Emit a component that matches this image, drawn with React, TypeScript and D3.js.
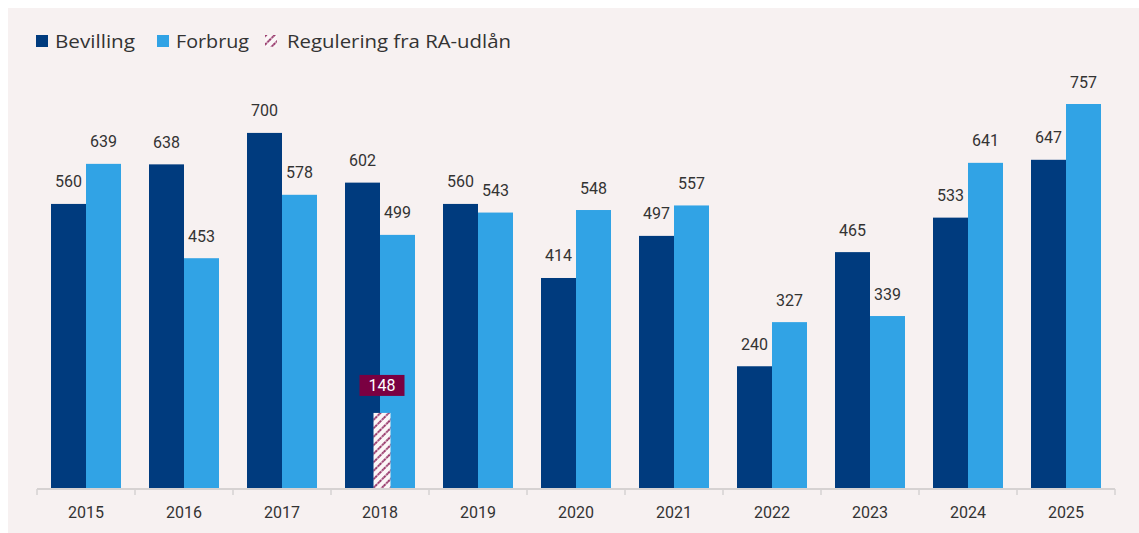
import React from "react";
import * as d3 from "d3";

const years = ["2015", "2016", "2017", "2018", "2019", "2020", "2021", "2022", "2023", "2024", "2025"];
const bevilling = [560, 638, 700, 602, 560, 414, 497, 240, 465, 533, 647];
const forbrug = [639, 453, 578, 499, 543, 548, 557, 327, 339, 641, 757];
const reguleringYear = "2018";
const reguleringValue = 148;
const legendLabels = ["Bevilling", "Forbrug", "Regulering fra RA-udlån"];

const W = 1139;
const H = 533;
const C_BEV = "#003B7E";
const C_FOR = "#31A3E5";
const C_REG = "#7A0041";
const BG = "#F7F1F1";
const FONT = "Roboto, 'Noto Sans', sans-serif";
const LFONT = "'Open Sans', 'Noto Sans', sans-serif";

export default function App() {
  const x = d3.scaleBand<string>().domain(years).range([37, 1115]).paddingInner(0).paddingOuter(0);
  const y = d3.scaleLinear().domain([0, 757]).range([488, 104]);
  const bw = 35;
  const bandW = x.bandwidth();

  return (
    <svg width={W} height={H} style={{ position: "absolute", left: 0, top: 0 }}>
      <defs>
        <pattern id="hatch" patternUnits="userSpaceOnUse" width="6" height="6" patternTransform="rotate(-45)">
          <rect width="6" height="6" fill="#FBF6F7" />
          <line x1="0" y1="3" x2="6" y2="3" stroke={C_REG} strokeWidth="1.3" strokeDasharray="2.4 0.9" />
        </pattern>
      </defs>
      <rect x={8} y={8} width={W - 8} height={H - 8} fill={BG} />

      {/* Legend */}
      <g fontFamily={LFONT} fontSize={19} fill="#333">
        <rect x={36} y={35} width={12} height={12} fill={C_BEV} />
        <text x={55} y={48} textLength={80} lengthAdjust="spacingAndGlyphs">{legendLabels[0]}</text>
        <rect x={157} y={35} width={12} height={12} fill={C_FOR} />
        <text x={176} y={48} textLength={73} lengthAdjust="spacingAndGlyphs">{legendLabels[1]}</text>
        <rect x={265} y={35} width={12} height={12} fill="url(#hatch)" />
        <text x={287} y={48} textLength={224} lengthAdjust="spacingAndGlyphs">{legendLabels[2]}</text>
      </g>

      {/* Bars */}
      {years.map((yr, i) => {
        const cx = (x(yr) as number) + bandW / 2;
        const b = bevilling[i];
        const f = forbrug[i];
        return (
          <g key={yr}>
            <rect x={cx - bw} y={y(b)} width={bw} height={y(0) - y(b)} fill={C_BEV} />
            <rect x={cx} y={y(f)} width={bw} height={y(0) - y(f)} fill={C_FOR} />
            <text x={cx - bw / 2} y={y(b) - 16.5} textAnchor="middle" fontFamily={FONT} fontSize={16} fill="#333">{b}</text>
            <text x={cx + bw / 2} y={y(f) - 16.5} textAnchor="middle" fontFamily={FONT} fontSize={16} fill="#333">{f}</text>
          </g>
        );
      })}

      {/* Regulering */}
      {(() => {
        const cx = (x(reguleringYear) as number) + bandW / 2 + 2;
        const top = y(reguleringValue);
        return (
          <g>
            <rect x={cx - 8.5} y={top} width={17} height={y(0) - top} fill="url(#hatch)" />
            <rect x={cx - 22.5} y={top - 38} width={45} height={21} fill={C_REG} />
            <text x={cx} y={top - 21.5} textAnchor="middle" fontFamily={FONT} fontSize={16} fill="#fff">{reguleringValue}</text>
          </g>
        );
      })()}

      {/* Axis */}
      <line x1={37} x2={1115} y1={489} y2={489} stroke="#D6D2D2" strokeWidth={2} />
      {d3.range(years.length + 1).map((k) => {
        const xx = 37 + k * bandW;
        return <line key={k} x1={xx} x2={xx} y1={489} y2={495} stroke="#D6D2D2" strokeWidth={1.5} />;
      })}
      {years.map((yr) => (
        <text key={yr} x={(x(yr) as number) + bandW / 2} y={518} textAnchor="middle" fontFamily={FONT} fontSize={16} fill="#333">{yr}</text>
      ))}
    </svg>
  );
}
